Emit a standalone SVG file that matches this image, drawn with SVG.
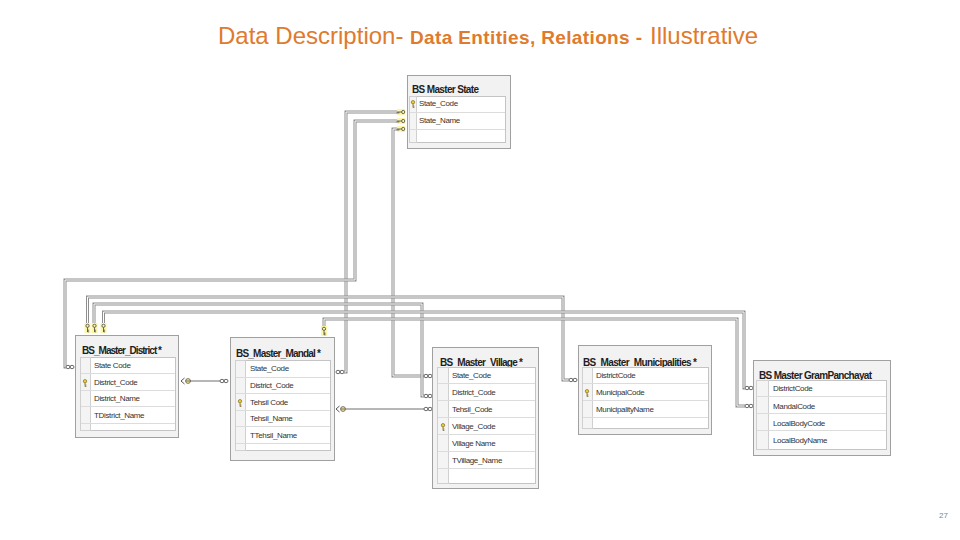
<svg xmlns="http://www.w3.org/2000/svg" width="960" height="540" viewBox="0 0 960 540">
<style>
.t1{font-family:"Liberation Sans",Arial,sans-serif;font-size:24px;fill:#e07a2c}
.t2{font-family:"Liberation Sans",Arial,sans-serif;font-size:19px;font-weight:bold;fill:#e07a2c}
.ob{fill:#f2f2f2;stroke:#a0a0a0}
.in{fill:#fff;stroke:#c4c4c4}
.kc{fill:#f4f4f4;stroke:#d0d0d0}
.rl{stroke:#dcdcdc;fill:none}
.th{font-family:"Liberation Sans",Arial,sans-serif;font-size:10px;font-weight:bold;fill:#1e1e1e}
.tr{font-family:"Liberation Sans",Arial,sans-serif;font-size:8px;fill:#333;letter-spacing:-0.35px}
.co{fill:none;stroke:#8e8e8e;stroke-width:3}
.ci{fill:none;stroke:#fff;stroke-width:1}
.sl{fill:none;stroke:#6e6e6e;stroke-width:1}
.pg{font-family:"Liberation Sans",Arial,sans-serif;font-size:8px;fill:#5f8f9c}
</style>
<defs>
<g id="inf"><path d="M-4 0a2 1.7 0 1 0 4 0a2 1.7 0 1 0-4 0M0 0a2 1.7 0 1 0 4 0a2 1.7 0 1 0-4 0" fill="#fff" stroke="#444" stroke-width="0.8"/></g>
<g id="kv"><rect x="-3" y="-5" width="6" height="10" fill="#fdf6a8"/><circle cx="0" cy="-2.2" r="1.6" fill="none" stroke="#444" stroke-width="0.8"/><path d="M0-0.6V4M0 2.2H1.6M0 3.8H1.6" stroke="#444" stroke-width="0.8" fill="none"/></g>
<g id="kh"><rect x="-4" y="-3" width="8" height="6" fill="#fdf6a8"/><circle cx="2.2" cy="0" r="1.6" fill="none" stroke="#444" stroke-width="0.8"/><path d="M0.6 0H-4M-2.2 0V1.6M-3.8 0V1.6" stroke="#444" stroke-width="0.8" fill="none"/></g>
<g id="pk"><circle cx="0" cy="-1.8" r="1.7" fill="#f2cc30" stroke="#6b5a10" stroke-width="0.6"/><path d="M0-0.1V3.6M0 2H1.4M0 3.4H1.4" stroke="#6b5a10" stroke-width="0.7" fill="none"/></g>
<g id="one"><path d="M3.5-3L0 0L3.5 3" stroke="#444" stroke-width="0.9" fill="none"/><circle cx="7" cy="0" r="2.4" fill="#fbe989" stroke="#555" stroke-width="0.8"/><path d="M4.6 0H10" stroke="#555" stroke-width="0.8"/></g>
</defs>

<text x="218" y="44" class="t1">Data Description-</text>
<text x="410" y="44" class="t2" textLength="232">Data Entities, Relations -</text>
<text x="650" y="44" class="t1">Illustrative</text>

<g id="connectors">
<g><path class="co" d="M405 112H346V372H344"/><path class="ci" d="M405 112H346V372H344"/></g>
<g><path class="co" d="M405 121H355V280H65V367H66"/><path class="ci" d="M405 121H355V280H65V367H66"/></g>
<g><path class="co" d="M405 129H393V376H424"/><path class="ci" d="M405 129H393V376H424"/></g>
<g><path class="co" d="M87.5 328V297H563V380H569"/><path class="ci" d="M87.5 328V297H563V380H569"/></g>
<g><path class="co" d="M94 328V304H422V396H424"/><path class="ci" d="M94 328V304H422V396H424"/></g>
<g><path class="co" d="M103.5 328V312H744V388H745"/><path class="ci" d="M103.5 328V312H744V388H745"/></g>
<g><path class="co" d="M324 331V319H737V406H745"/><path class="ci" d="M324 331V319H737V406H745"/></g>
<path class="sl" d="M190 381H220"/>
<path class="sl" d="M346 409H424"/>
<use href="#kh" x="401" y="112"/>
<use href="#kh" x="401" y="121"/>
<use href="#kh" x="401" y="129"/>
<use href="#kv" x="87.5" y="328"/>
<use href="#kv" x="94.5" y="328"/>
<use href="#kv" x="103.5" y="328"/>
<use href="#kv" x="324" y="331"/>
<use href="#inf" x="340" y="372"/>
<use href="#inf" x="70" y="367"/>
<use href="#inf" x="428" y="376"/>
<use href="#inf" x="573" y="380"/>
<use href="#inf" x="428" y="396"/>
<use href="#inf" x="749" y="388"/>
<use href="#inf" x="749" y="406"/>
<use href="#inf" x="224" y="381"/>
<use href="#inf" x="428" y="409"/>
<use href="#one" x="181" y="381"/>
<use href="#one" x="336" y="409"/>
</g>

<g id="state">
<rect class="ob" x="407.5" y="75.5" width="103" height="73"/>
<text class="th" x="412" y="93" textLength="67">BS Master State</text>
<rect class="in" x="409.5" y="96.5" width="96" height="46"/>
<rect class="kc" x="409.5" y="96.5" width="7" height="46"/>
<path class="rl" d="M410 112.5H505M410 129.5H505"/>
<use href="#pk" x="413" y="104"/>
<text class="tr" x="419" y="106">State_Code</text>
<text class="tr" x="419" y="123">State_Name</text>
</g>

<g id="district">
<rect class="ob" x="75.5" y="335.5" width="103" height="102"/>
<text class="th" x="82" y="354" textLength="80">BS_Master_District *</text>
<rect class="in" x="80.5" y="357.5" width="95" height="73"/>
<rect class="kc" x="80.5" y="357.5" width="10" height="73"/>
<path class="rl" d="M81 373.5H175M81 390.5H175M81 406.5H175M81 423.5H175"/>
<use href="#pk" x="85" y="383"/>
<text class="tr" x="94" y="368">State Code</text>
<text class="tr" x="94" y="385">District_Code</text>
<text class="tr" x="94" y="401">District_Name</text>
<text class="tr" x="94" y="418">TDistrict_Name</text>
</g>

<g id="mandal">
<rect class="ob" x="230.5" y="337.5" width="104" height="123"/>
<text class="th" x="236" y="357" textLength="85">BS_Master_Mandal *</text>
<rect class="in" x="235.5" y="360.5" width="95" height="90"/>
<rect class="kc" x="235.5" y="360.5" width="10" height="90"/>
<path class="rl" d="M236 377.5H330M236 393.5H330M236 410.5H330M236 426.5H330M236 443.5H330"/>
<use href="#pk" x="240" y="403"/>
<text class="tr" x="250" y="371">State_Code</text>
<text class="tr" x="250" y="388">District_Code</text>
<text class="tr" x="250" y="405">Tehsil Code</text>
<text class="tr" x="250" y="421">Tehsil_Name</text>
<text class="tr" x="250" y="438">TTehsil_Name</text>
</g>

<g id="village">
<rect class="ob" x="432.5" y="347.5" width="106" height="141"/>
<text class="th" x="440" y="366" textLength="83">BS_Master_Village *</text>
<rect class="in" x="437.5" y="367.5" width="98" height="116"/>
<rect class="kc" x="437.5" y="367.5" width="11" height="116"/>
<path class="rl" d="M438 383.5H535M438 400.5H535M438 417.5H535M438 434.5H535M438 451.5H535M438 468.5H535"/>
<use href="#pk" x="443" y="427"/>
<text class="tr" x="452" y="378">State_Code</text>
<text class="tr" x="452" y="395">District_Code</text>
<text class="tr" x="452" y="412">Tehsil_Code</text>
<text class="tr" x="452" y="429">Village_Code</text>
<text class="tr" x="452" y="446">Village Name</text>
<text class="tr" x="452" y="463">TVillage_Name</text>
</g>

<g id="municipalities">
<rect class="ob" x="578.5" y="345.5" width="133" height="89"/>
<text class="th" x="583" y="366" textLength="114">BS_Master_Municipalities *</text>
<rect class="in" x="582.5" y="367.5" width="126" height="61"/>
<rect class="kc" x="582.5" y="367.5" width="10" height="61"/>
<path class="rl" d="M583 383.5H708M583 400.5H708M583 417.5H708"/>
<use href="#pk" x="587" y="393"/>
<text class="tr" x="596" y="378">DistrictCode</text>
<text class="tr" x="596" y="395">MunicipalCode</text>
<text class="tr" x="596" y="412">MunicipalityName</text>
</g>

<g id="grampanchayat">
<rect class="ob" x="753.5" y="360.5" width="137" height="95"/>
<text class="th" x="759" y="379" textLength="113">BS Master GramPanchayat</text>
<rect class="in" x="756.5" y="380.5" width="130" height="69"/>
<rect class="kc" x="756.5" y="380.5" width="12" height="69"/>
<path class="rl" d="M757 396.5H886M757 413.5H886M757 430.5H886"/>
<text class="tr" x="773" y="391">DistrictCode</text>
<text class="tr" x="773" y="409">MandalCode</text>
<text class="tr" x="773" y="426">LocalBodyCode</text>
<text class="tr" x="773" y="443">LocalBodyName</text>
</g>

<text class="pg" x="939" y="518">27</text>
</svg>
